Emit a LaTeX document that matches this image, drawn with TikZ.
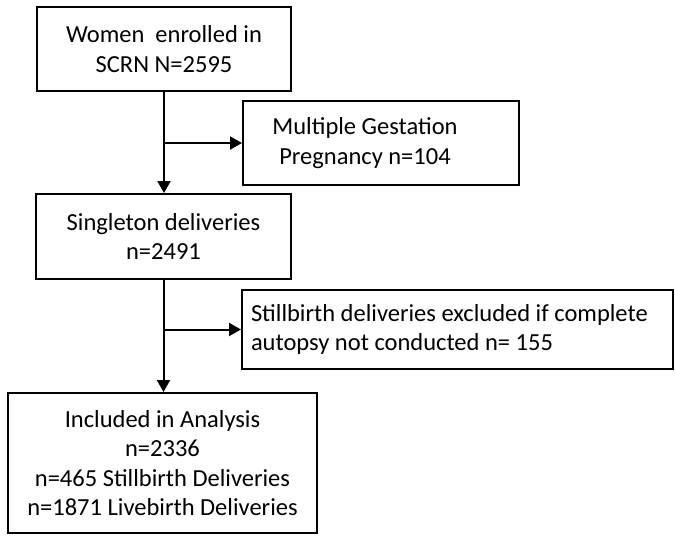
\documentclass[tikz,border=0pt]{standalone}
\usepackage{fontspec}
\setmainfont{Carlito}
\usetikzlibrary{arrows.meta}
\begin{document}
\begin{tikzpicture}[x=0.5pt,y=-0.5pt,
  box/.style={draw,line width=1pt,align=center,inner sep=0pt,
    font=\fontsize{12.25}{14.75}\selectfont},
  arr/.style={line width=1pt,-{Triangle[length=6pt,width=6.5pt]}}]
\useasboundingbox (0,0) rectangle (675,538);
\node[box,minimum width=127pt,minimum height=42pt] (enrol) at (164,49) {Women\ \ enrolled in\\SCRN N=2595};
\node[box,minimum width=138pt,minimum height=42pt,
  label={[xshift=-8pt,align=center,font=\fontsize{12.25}{14.75}\selectfont]center:Multiple Gestation\\Pregnancy n=104}] (multi) at (381,143) {};
\node[box,minimum width=127.5pt,minimum height=42.5pt] (single) at (163.5,236.5) {Singleton deliveries\\n=2491};
\node[box,minimum width=215.5pt,minimum height=39.5pt,text width=206.5pt,align=flush left] (excl) at (457.5,329.5) {Stillbirth deliveries excluded if complete\\autopsy not conducted n= 155};
\node[box,minimum width=154.5pt,minimum height=70pt] (incl) at (162.5,463) {Included in Analysis\\n=2336\\n=465 Stillbirth Deliveries\\n=1871 Livebirth Deliveries};
\draw[arr] (enrol.south) -- (enrol.south |- single.north);
\draw[arr] (enrol.south |- multi.west) -- (multi.west);
\draw[arr] (single.south) -- (single.south |- incl.north);
\draw[arr] (single.south |- excl.west) -- (excl.west);
\end{tikzpicture}
\end{document}
